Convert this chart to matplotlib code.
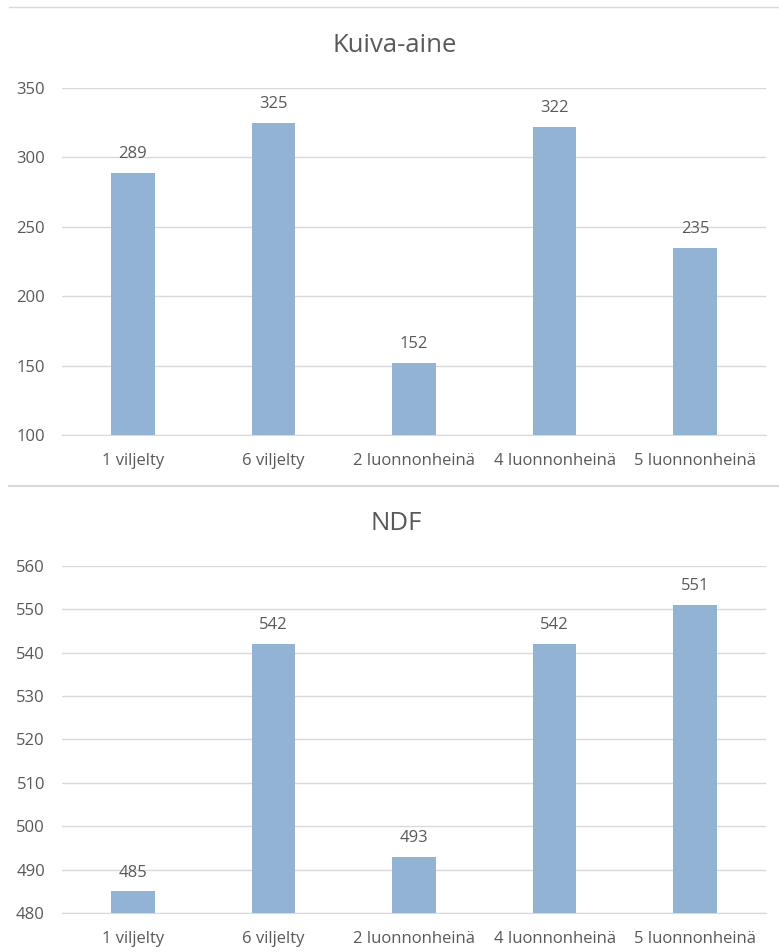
import matplotlib
matplotlib.use("Agg")
import matplotlib.pyplot as plt
from matplotlib.lines import Line2D

categories = ["1 viljelty", "6 viljelty", "2 luonnonheinä", "4 luonnonheinä", "5 luonnonheinä"]
kuiva_aine = [289, 325, 152, 322, 235]
ndf = [485, 542, 493, 542, 551]
title_top = "Kuiva-aine"
title_bottom = "NDF"

plt.rcParams['font.family'] = ['Open Sans', 'DejaVu Sans']
TXT = '#595959'
BAR = '#93B3D5'
GRID = '#D9D9D9'

fig = plt.figure(figsize=(7.79, 9.52), dpi=100)

def draw(ax, vals, ymin, ymax, step):
    x = range(len(categories))
    ax.bar(x, [v - ymin for v in vals], bottom=ymin, width=0.31, color=BAR, zorder=3)
    ax.set_xlim(-0.5, len(categories) - 0.5)
    ax.set_ylim(ymin, ymax)
    ax.set_yticks(range(ymin, ymax + 1, step))
    ax.set_xticks(list(x))
    ax.set_xticklabels(categories, va='center')
    ax.grid(axis='y', color=GRID, linewidth=1, zorder=0)
    for s in ['top', 'right', 'left']:
        ax.spines[s].set_visible(False)
    ax.spines['bottom'].set_color(GRID)
    ax.tick_params(axis='both', length=0, colors=TXT, labelsize=12)
    ax.tick_params(axis='y', pad=12.6)
    ax.tick_params(axis='x', pad=18.5)
    for i, v in enumerate(vals):
        ax.annotate(str(v), (i, v), xytext=(0, 13.5), textcoords='offset points',
                    ha='center', va='center', color=TXT, fontsize=12)

ax1 = fig.add_axes([0.0802, 0.5431, 0.9025, 0.3645])
draw(ax1, kuiva_aine, 100, 350, 50)
ax2 = fig.add_axes([0.0802, 0.0410, 0.9025, 0.3645])
draw(ax2, ndf, 480, 560, 10)

fig.text(395 / 779, 1 - 51.5 / 952, title_top, ha='center', va='baseline', color=TXT, fontsize=18.5)
fig.text(396 / 779, 1 - 530 / 952, title_bottom, ha='center', va='baseline', color=TXT, fontsize=18.5)

fig.add_artist(Line2D([0.012, 1.0], [0.9926, 0.9926], color=GRID, linewidth=1, transform=fig.transFigure))
fig.add_artist(Line2D([0.012, 1.0], [0.4895, 0.4895], color=GRID, linewidth=1.5, transform=fig.transFigure))

fig.savefig("out.png", dpi=100)
